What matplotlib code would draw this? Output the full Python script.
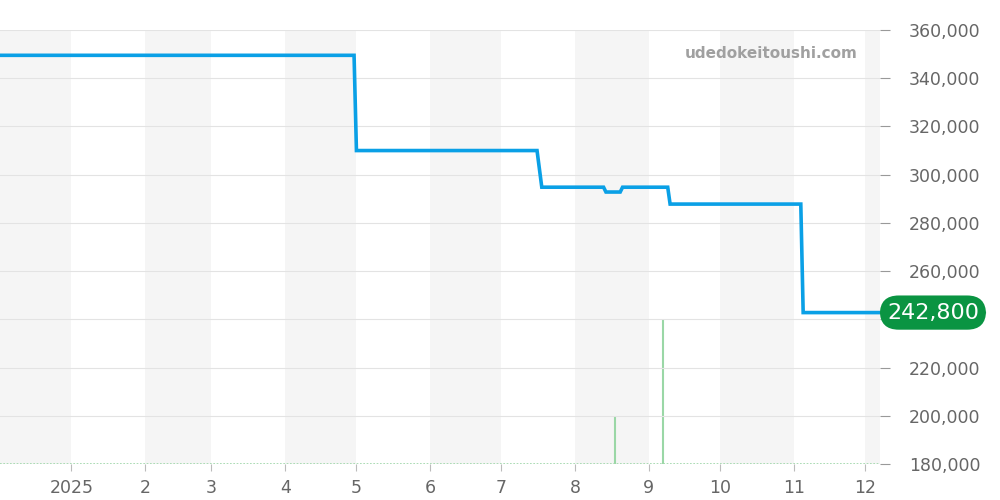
import numpy as np
import pandas as pd
import matplotlib.pyplot as plt
import matplotlib.dates as mdates

plt.rcParams['font.family'] = ['DejaVu Sans']

# price history (step changes)
price_dates = pd.to_datetime([
    "2024-12-02", "2025-04-30", "2025-05-01", "2025-07-16", "2025-07-18",
    "2025-08-13", "2025-08-14", "2025-08-20", "2025-08-21", "2025-09-09",
    "2025-09-10", "2025-11-04", "2025-11-05", "2025-12-07",
])
prices = [349500, 349500, 310000, 310000, 294800,
          294800, 292800, 292800, 294800, 294800,
          287800, 287800, 242800, 242800]

# trade volume
vol_dates = pd.to_datetime(["2025-08-18", "2025-09-07"])
volumes = [1, 3]

last_price = 242800
x_start, x_end = pd.Timestamp("2024-12-02"), pd.Timestamp("2025-12-07 08:00")

fig = plt.figure(figsize=(10, 5), dpi=100)
ax = fig.add_axes([0.0, 0.072, 0.88, 0.868])

# volume + month shading live on the twin axis, drawn underneath
ax2 = ax.twinx()
months = pd.date_range("2024-12-01", "2026-01-01", freq="MS")
for m0, m1 in zip(months[:-1], months[1:]):
    if m0.month % 2 == 0:
        ax2.axvspan(m0, m1, color="#f5f5f5", zorder=0, lw=0)
ax2.set_ylim(0, 9)
ax2.vlines(vol_dates, 0, volumes, color="#9ad7a6", lw=1.5, zorder=2)
ax2.axhline(0, color="#9ad7a6", lw=1.2, ls=(0, (1, 1)))
ax2.set_xlim(x_start, x_end)
ax2.axis("off")
ax2.set_zorder(0)
ax.set_zorder(1)
ax.patch.set_visible(False)

ax.plot(price_dates, prices, color="#0aa0e6", lw=2.6, zorder=3,
        solid_joinstyle="miter")

ax.set_xlim(x_start, x_end)
ax.set_ylim(180000, 360000)
ax.set_yticks(np.arange(180000, 360001, 20000))
# the 240,000 label sits under the last-price badge
ax.yaxis.set_major_formatter(plt.FuncFormatter(
    lambda v, p: "" if int(v) == 240000 else f"{int(v):,}"))
ax.grid(axis="y", color="#e3e3e3", lw=0.8, zorder=1)

ax.xaxis.set_major_locator(mdates.MonthLocator(bymonth=range(1, 13)))
ax.xaxis.set_major_formatter(plt.FuncFormatter(
    lambda v, p: str(mdates.num2date(v).year) if mdates.num2date(v).month == 1
    else str(mdates.num2date(v).month)))
ax.tick_params(axis="x", colors="#bbbbbb", labelcolor="#666666",
               labelsize=12.5, length=5, pad=6)
ax.tick_params(axis="y", colors="#999999", labelcolor="#666666",
               labelsize=12.5, length=7, pad=14, left=False, right=True,
               labelleft=False, labelright=True)
for s in ["top", "left", "bottom", "right"]:
    ax.spines[s].set_visible(False)

ax.text(0.975, 0.945, "udedokeitoushi.com", transform=ax.transAxes,
        ha="right", va="center", fontsize=11, fontweight="bold",
        color="#a0a0a0", zorder=5)

ax.annotate(f"{last_price:,}", xy=(1.0, last_price),
            xycoords=("axes fraction", "data"),
            xytext=(5, 0), textcoords="offset points",
            ha="left", va="center", fontsize=16, color="white",
            bbox=dict(boxstyle="round,pad=0.32,rounding_size=0.85",
                      fc="#0a9442", ec="none"),
            annotation_clip=False, zorder=6)

fig.savefig("out.png", dpi=100)
